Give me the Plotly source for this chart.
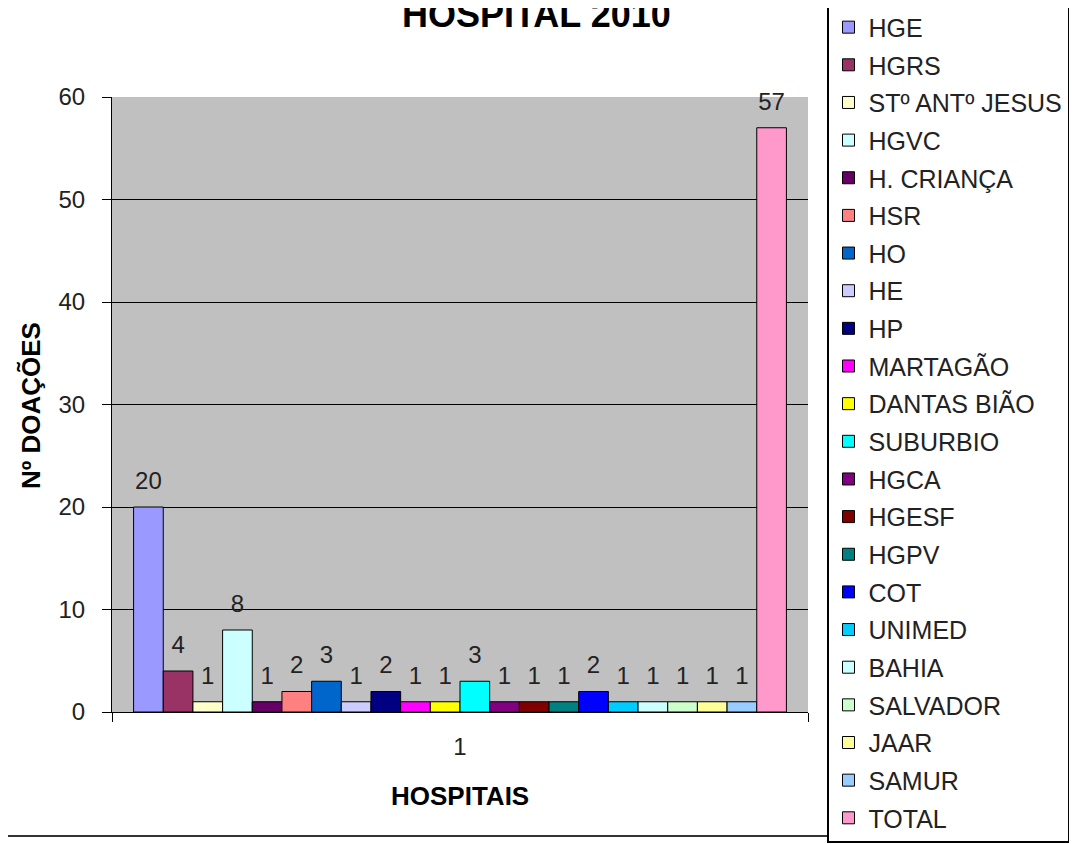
import plotly.graph_objects as go

# ── Data ──────────────────────────────────────────────────────────────────────
hospitals = [
    "HGE", "HGRS", "STº ANTº JESUS", "HGVC", "H. CRIANÇA", "HSR", "HO", "HE",
    "HP", "MARTAGÃO", "DANTAS BIÃO", "SUBURBIO", "HGCA", "HGESF", "HGPV",
    "COT", "UNIMED", "BAHIA", "SALVADOR", "JAAR", "SAMUR", "TOTAL",
]
donations = [20, 4, 1, 8, 1, 2, 3, 1, 2, 1, 1, 3, 1, 1, 1, 2, 1, 1, 1, 1, 1, 57]
bar_colors = [
    "#9999FF", "#993366", "#FFFFCC", "#CCFFFF", "#660066", "#FF8080",
    "#0066CC", "#CCCCFF", "#000080", "#FF00FF", "#FFFF00", "#00FFFF",
    "#800080", "#800000", "#008080", "#0000FF", "#00CCFF", "#CCFFFF",
    "#CCFFCC", "#FFFF99", "#99CCFF", "#FF99CC",
]
category = ["1"]

FONT = "Liberation Sans, Arial, sans-serif"
TXT = "#222222"
GAP = 0.062

fig = go.Figure()
for name, val, col in zip(hospitals, donations, bar_colors):
    fig.add_trace(go.Bar(
        x=category,
        y=[val],
        name=name,
        legendgroup=name,
        marker=dict(color=col, line=dict(color="black", width=1)),
    ))

# value labels: invisible markers in grouped scatter mode line up with the bars,
# the marker size sets how far above the bar top the number sits
for name, val in zip(hospitals, donations):
    fig.add_trace(go.Scatter(
        x=category,
        y=[val],
        mode="markers+text",
        text=[str(val)],
        textposition="top center",
        textfont=dict(size=24, color=TXT, family=FONT),
        marker=dict(size=18, color="rgba(0,0,0,0)"),
        showlegend=False,
        hoverinfo="skip",
        cliponaxis=False,
    ))

# page body adds an 8px margin, so the canvas is 8px smaller than the window
fig.update_layout(
    width=1073,
    height=836,
    paper_bgcolor="white",
    plot_bgcolor="#C0C0C0",
    font=dict(family=FONT, size=24, color=TXT),
    margin=dict(l=104, r=273, t=89, b=132, autoexpand=False),
    barmode="group",
    bargap=GAP,
    bargroupgap=0,
    scattermode="group",
    scattergap=GAP,
    showlegend=True,
    legend=dict(
        x=1.0273, y=1.153, xanchor="left", yanchor="top",
        bgcolor="white", bordercolor="black", borderwidth=1.5,
        font=dict(size=25, family=FONT, color=TXT),
        tracegroupgap=2.15,
        itemwidth=30,
        maxheight=1000,
    ),
    xaxis=dict(
        showline=True, linecolor="black", linewidth=1,
        ticks="outside", tickson="boundaries", ticklen=9, tickcolor="black",
        ticklabelstandoff=13,
        tickfont=dict(size=24, family=FONT, color=TXT),
        showgrid=False,
    ),
    yaxis=dict(
        range=[0, 60], dtick=10,
        showline=True, linecolor="black", linewidth=1,
        ticks="outside", ticklen=9, tickcolor="black",
        ticklabelstandoff=12,
        tickfont=dict(size=24, family=FONT, color=TXT),
        showgrid=True, gridcolor="black", gridwidth=1,
        zeroline=False,
    ),
    annotations=[
        dict(text="<b>HOSPITAL 2010</b>", xref="paper", yref="paper",
             x=0.6106, y=1.134, xanchor="center", yanchor="middle",
             showarrow=False, font=dict(size=36, family=FONT, color="black")),
        dict(text="<b>HOSPITAIS</b>", xref="paper", yref="paper",
             x=0.5, y=-0.1366, xanchor="center", yanchor="middle",
             showarrow=False, font=dict(size=26, family=FONT, color="black")),
        dict(text="<b>Nº DOAÇÕES</b>", xref="paper", yref="paper",
             x=-0.1164, y=0.499, xanchor="center", yanchor="middle",
             textangle=-90,
             showarrow=False, font=dict(size=26, family=FONT, color="black")),
    ],
    shapes=[dict(
        type="line", xref="paper", yref="paper",
        x0=-0.161, x1=1.0273, y0=-0.2016, y1=-0.2016,
        line=dict(color="#333333", width=2),
    )],
)

fig.write_html("out.html")
